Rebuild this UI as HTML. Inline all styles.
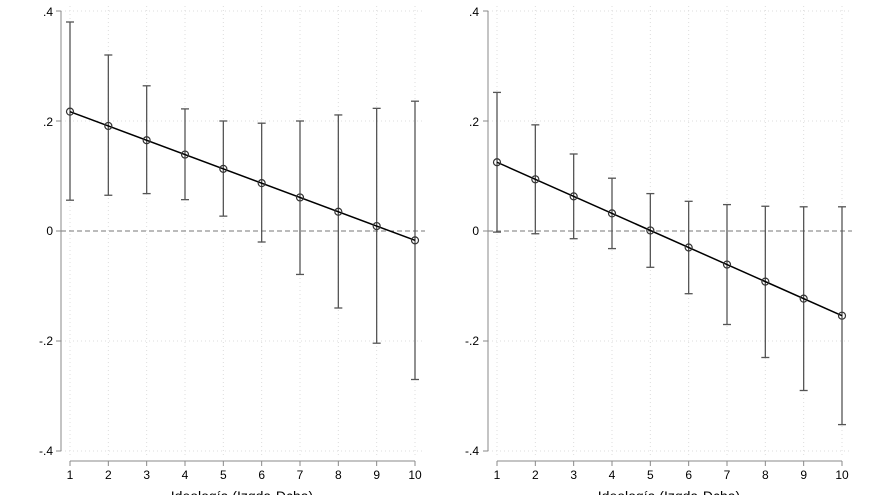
<!DOCTYPE html>
<html><head><meta charset="utf-8"><style>
html,body{margin:0;padding:0;background:#fff;width:880px;height:495px;overflow:hidden}
svg{display:block;font-family:"Liberation Sans",sans-serif}
</style></head><body>
<svg id="s" width="880" height="495" xmlns="http://www.w3.org/2000/svg">
<g font-size="12" fill="#000" text-anchor="end">
<text x="53" y="16">.4</text><text x="53" y="126">.2</text><text x="53" y="235">0</text><text x="53" y="345">-.2</text><text x="53" y="455">-.4</text>
<text x="479" y="16">.4</text><text x="479" y="126">.2</text><text x="479" y="235">0</text><text x="479" y="345">-.2</text><text x="479" y="455">-.4</text>
</g>
<g font-size="12" fill="#000" text-anchor="middle">
<text x="70" y="479">1</text><text x="108.3" y="479">2</text><text x="146.7" y="479">3</text><text x="185" y="479">4</text><text x="223.3" y="479">5</text><text x="261.7" y="479">6</text><text x="300" y="479">7</text><text x="338.3" y="479">8</text><text x="376.7" y="479">9</text><text x="415" y="479">10</text>
<text x="497" y="479">1</text><text x="535.3" y="479">2</text><text x="573.7" y="479">3</text><text x="612" y="479">4</text><text x="650.3" y="479">5</text><text x="688.7" y="479">6</text><text x="727" y="479">7</text><text x="765.3" y="479">8</text><text x="803.7" y="479">9</text><text x="842" y="479">10</text>
<text x="242" y="501" font-size="14">Ideología (Izqda-Dcha)</text>
<text x="669" y="501" font-size="14">Ideología (Izqda-Dcha)</text>
</g>
</svg>
<script>
var s=document.getElementById('s'),NS='http://www.w3.org/2000/svg';
function el(t,a){var e=document.createElementNS(NS,t);for(var k in a)e.setAttribute(k,a[k]);s.appendChild(e);return e;}
function Y(v){return 231-v*550;}
var P=[{ax:61,x0:70,m:[.217,.191,.165,.139,.113,.087,.061,.035,.009,-.017],
u:[.38,.32,.264,.222,.2,.196,.2,.211,.223,.236],l:[.056,.065,.068,.057,.027,-.02,-.079,-.14,-.204,-.27]},
{ax:488,x0:497,m:[.125,.094,.063,.032,.001,-.03,-.061,-.092,-.123,-.154],
u:[.252,.193,.14,.096,.068,.054,.048,.045,.044,.044],l:[-.002,-.005,-.014,-.032,-.066,-.114,-.17,-.23,-.29,-.352]}];
P.forEach(function(p){
 var xe=p.x0+9*38.333;
 [.4,.2,-.2,-.4].forEach(function(v){el('line',{x1:p.ax,x2:xe+10,y1:Y(v),y2:Y(v),stroke:'#ddd','stroke-dasharray':'1,3'});});
 for(var i=0;i<10;i++){var x=p.x0+i*38.333;el('line',{x1:x,x2:x,y1:6,y2:458,stroke:'#ddd','stroke-dasharray':'1,3'});}
 el('line',{x1:p.ax,x2:xe+10,y1:231,y2:231,stroke:'#777','stroke-dasharray':'5,3'});
 el('line',{x1:p.ax,x2:p.ax,y1:Y(.4),y2:Y(-.4),stroke:'#888'});
 [.4,.2,0,-.2,-.4].forEach(function(v){el('line',{x1:p.ax-5,x2:p.ax,y1:Y(v),y2:Y(v),stroke:'#888'});});
 el('line',{x1:p.x0,x2:xe,y1:461,y2:461,stroke:'#888'});
 for(var i=0;i<10;i++){var x=p.x0+i*38.333;el('line',{x1:x,x2:x,y1:461,y2:466,stroke:'#888'});
  el('line',{x1:x,x2:x,y1:Y(p.u[i]),y2:Y(p.l[i]),stroke:'#555','stroke-width':1.3});
  el('line',{x1:x-4,x2:x+4,y1:Y(p.u[i]),y2:Y(p.u[i]),stroke:'#555','stroke-width':1.3});
  el('line',{x1:x-4,x2:x+4,y1:Y(p.l[i]),y2:Y(p.l[i]),stroke:'#555','stroke-width':1.3});}
 el('line',{x1:p.x0,x2:xe,y1:Y(p.m[0]),y2:Y(p.m[9]),stroke:'#000','stroke-width':1.5});
 for(var i=0;i<10;i++){el('circle',{cx:p.x0+i*38.333,cy:Y(p.m[i]),r:3.5,fill:'none',stroke:'#333','stroke-width':1.2});}
});
</script>
</body></html>
